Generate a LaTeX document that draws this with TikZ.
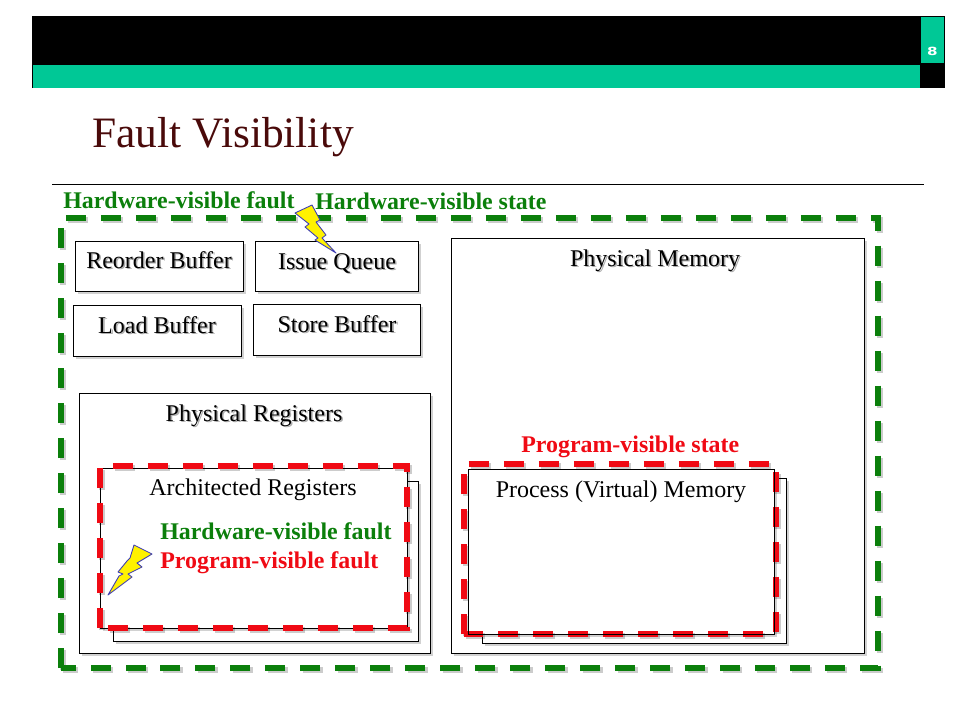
\documentclass[tikz,border=0pt]{standalone}
\usepackage{fontspec}
\setmainfont{Liberation Serif}
\newfontfamily\pagenumfont{DejaVu Sans}
\usetikzlibrary{shadows}
\definecolor{tealbar}{HTML}{00C896}
\definecolor{titlered}{HTML}{4A0A0A}
\definecolor{hwgreen}{HTML}{0B7F0B}
\definecolor{swred}{HTML}{F00A14}
\definecolor{boltedge}{HTML}{3C3CB4}
\newcommand{\shtext}[1]{\leavevmode\rlap{\raisebox{-0.9pt}{\hspace{0.9pt}\color{black!32}#1}}#1}
\tikzset{
  statebox/.style={rectangle, draw=black, fill=white, line width=0.55pt, inner sep=0pt, outer sep=0pt,
                   drop shadow={shadow xshift=1.2pt, shadow yshift=-1.2pt, fill=black, opacity=0.18}},
  boxlabel/.style={anchor=base, inner sep=0pt, font=\fontsize{13.66}{16}\selectfont},
  hwlabel/.style={anchor=base west, inner sep=0pt, text=hwgreen, font=\fontsize{13.6}{16}\selectfont\bfseries},
  swlabel/.style={hwlabel, text=swred},
  zonedash/.style={line width=3.2pt, dash pattern=on 0.4cm off 0.3cm},
  faultzone/.style={zonedash,
                    preaction={draw=black, zonedash, opacity=0.2, transform canvas={xshift=1.2pt, yshift=-1.2pt}}},
  hwzone/.style={faultzone, draw=hwgreen},
  swzone/.style={faultzone, draw=swred},
  bolt/.style={fill=yellow, draw=boltedge, line width=0.5pt, line join=round},
}
\begin{document}
\begin{tikzpicture}[x=0.02cm, y=-0.02cm]
  \useasboundingbox (0,0) rectangle (960,720);

  % slide header
  \fill[black] (32,16) rectangle (945,88);
  \fill[tealbar] (33,65) rectangle (920,87.5);
  \fill[tealbar] (921,17) rectangle (944,63);
  \node[inner sep=0pt, text=white, xscale=1.35, font=\fontsize{6.4}{7}\pagenumfont\bfseries] (pagenum) at (932.5,51.5) {8};
  \node[anchor=base west, inner sep=0pt, text=titlered, font=\fontsize{24.7}{28}\selectfont] (title) at (92,147) {Fault Visibility};
  \coordinate (ruleL) at (52,184.5);
  \coordinate (ruleR) at (924,184.5);
  \draw[line width=0.55pt] (ruleL) -- (ruleR);

  % hardware structures
  \node[statebox, minimum width=3.36cm, minimum height=1.0cm] (rob) at (159.5,266.5) {};
  \node[statebox, minimum width=3.26cm, minimum height=1.0cm] (iq) at (337,266.5) {};
  \node[statebox, minimum width=3.36cm, minimum height=1.02cm] (lb) at (157.5,331) {};
  \node[statebox, minimum width=3.34cm, minimum height=1.02cm] (sb) at (337,330) {};
  \node[statebox, minimum width=7.02cm, minimum height=5.2cm] (pregs) at (255,523.5) {};
  \node[statebox, minimum width=8.26cm, minimum height=8.3cm] (pmem) at (658,446) {};

  \node[boxlabel] (roblabel) at (159,268) {\shtext{Reorder Buffer}};
  \node[boxlabel] (iqlabel) at (337,269) {\shtext{Issue Queue}};
  \node[boxlabel] (lblabel) at (157,333) {\shtext{Load Buffer}};
  \node[boxlabel] (sblabel) at (337,332) {\shtext{Store Buffer}};
  \node[boxlabel] (pmemlabel) at (655,266) {\shtext{Physical Memory}};
  \node[boxlabel] (pregslabel) at (254,421) {\shtext{Physical Registers}};

  % architected registers
  \node[statebox, minimum width=6.10cm, minimum height=3.2cm] (aregsback) at (266,561.5) {};
  \node[statebox, minimum width=6.14cm, minimum height=3.2cm] (aregs) at (254,548.5) {};
  \node[boxlabel] (aregslabel) at (253,495) {Architected Registers};
  \draw[swzone] (100,628) -- (100,466) -- (407,466) -- (407,628) -- cycle;

  % process memory
  \node[statebox, minimum width=6.08cm, minimum height=3.3cm] (vmemback) at (634.5,561) {};
  \node[statebox, minimum width=6.12cm, minimum height=3.3cm] (vmem) at (621.5,552) {};
  \draw[swzone] (464,634) -- (464,464) -- (776,464) -- (776,634) -- cycle;
  \draw[line width=0.55pt] (vmem.south west) rectangle (vmem.north east);
  \node[boxlabel] (vmemlabel) at (621,497) {Process (Virtual) Memory};

  % hardware-visible boundary
  \draw[hwzone] (61,668) -- (61,218) -- (878,218) -- (878,668) -- cycle;

  % labels
  \node[hwlabel] (hwfaulttop) at (63,208) {Hardware-visible fault};
  \node[hwlabel] (hwstate) at (315,209) {Hardware-visible state};
  \node[swlabel] (swstate) at (521,452) {Program-visible state};
  \node[hwlabel] (hwfault) at (160,539) {Hardware-visible fault};
  \node[swlabel] (swfault) at (160,568) {Program-visible fault};

  % lightning bolts
  \draw[bolt] (295,213) -- (312,205) -- (320,220) -- (316,222) -- (326,235) -- (322,238)
    -- (336,253) -- (315,240) -- (318,238) -- (305,227) -- (309,224) -- cycle;
  \draw[bolt] (134,545) -- (152,554) -- (137,563) -- (142,567) -- (128,574) -- (132,577)
    -- (108,595) -- (119,576) -- (123,574) -- (118,572) -- (127,561) -- (130,558) -- cycle;
\end{tikzpicture}
\end{document}
